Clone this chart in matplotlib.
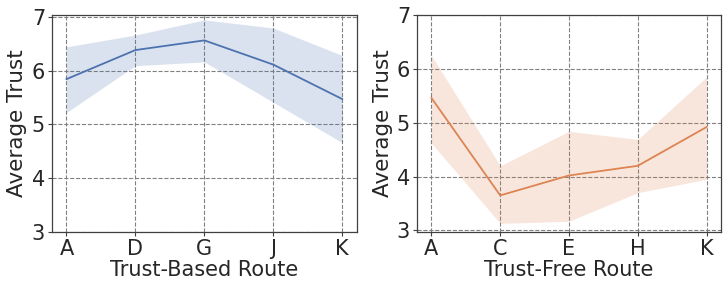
import matplotlib.pyplot as plt

# trust-based route
based_routes = ["A", "D", "G", "J", "K"]
based_mean = [5.84, 6.38, 6.56, 6.11, 5.47]
based_low = [5.22, 6.09, 6.16, 5.41, 4.66]
based_high = [6.44, 6.66, 6.94, 6.79, 6.28]

# trust-free route
free_routes = ["A", "C", "E", "H", "K"]
free_mean = [5.46, 3.65, 4.02, 4.20, 4.92]
free_low = [4.62, 3.13, 3.17, 3.70, 3.95]
free_high = [6.25, 4.20, 4.84, 4.69, 5.85]

plt.rcParams['font.family'] = 'DejaVu Sans'
plt.rcParams['text.color'] = '#262626'
plt.rcParams['axes.labelcolor'] = '#262626'
plt.rcParams['xtick.color'] = '#262626'
plt.rcParams['ytick.color'] = '#262626'

fig = plt.figure(figsize=(7.28, 2.9), dpi=100)
ax1 = fig.add_axes([0.0714, 0.2, 0.4186, 0.748])
ax2 = fig.add_axes([0.5728, 0.2, 0.4176, 0.748])


def draw(ax, routes, mean, low, high, color, xlabel, ylim):
    x = range(len(routes))
    ax.fill_between(x, low, high, color=color, alpha=0.2, linewidth=0)
    ax.plot(x, mean, color=color, lw=1.3)
    ax.set_xticks(list(x))
    ax.set_xticklabels(routes)
    ax.set_yticks([3, 4, 5, 6, 7])
    ax.set_xlim(-0.21, 4.21)
    ax.set_ylim(*ylim)
    ax.set_xlabel(xlabel, fontsize=15, labelpad=1)
    ax.set_ylabel("Average Trust", fontsize=15.5, labelpad=3)
    ax.tick_params(labelsize=15, length=3, width=0.8, color='#404040', pad=2)
    ax.grid(True, linestyle='--', color='#808080', linewidth=0.8)
    ax.set_axisbelow(True)
    for s in ax.spines.values():
        s.set_color('#404040')
        s.set_linewidth(0.9)


draw(ax1, based_routes, based_mean, based_low, based_high, '#4C72B0',
     "Trust-Based Route", (3, 7.03))
draw(ax2, free_routes, free_mean, free_low, free_high, '#DD8452',
     "Trust-Free Route", (2.97, 7))

fig.savefig("out.png", dpi=100)
